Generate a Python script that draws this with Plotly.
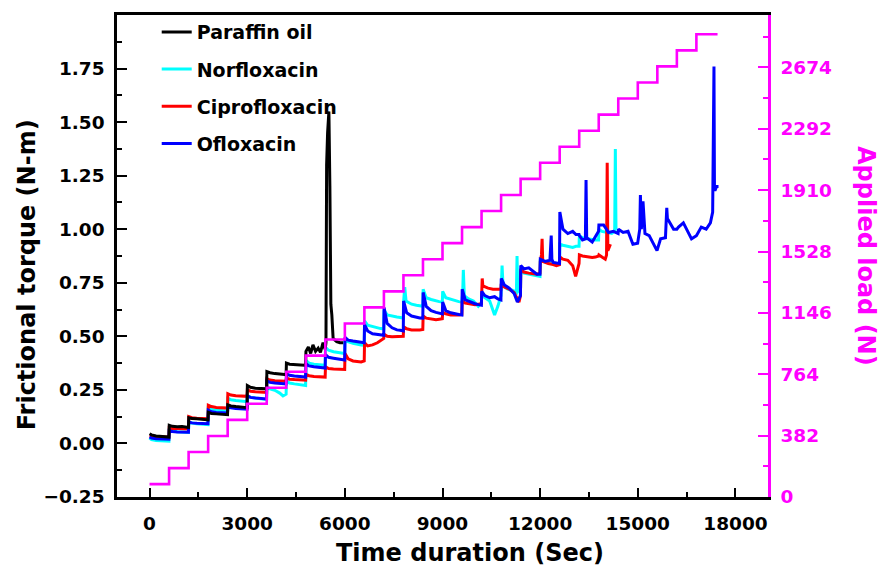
import plotly.graph_objects as go

# ---- Applied load steps (N) ----
load_time = [0, 600, 1200, 1800, 2400, 3000, 3600, 4200, 4800, 5400, 6000, 6600, 7200, 7800,
             8400, 9000, 9600, 10200, 10800, 11400, 12000, 12600, 13200, 13800, 14400, 15000,
             15600, 16200, 16800, 17450]
load_val = [80, 180, 280, 380, 480, 580, 680, 780, 880, 980, 1080, 1180, 1280, 1380,
            1480, 1580, 1680, 1780, 1880, 1980, 2080, 2180, 2280, 2380, 2480, 2580,
            2680, 2780, 2880, 2880]

# ---- Paraffin oil ----
paraffin_t = [0, 60, 200, 350, 500, 595,
              605, 700, 850, 1000, 1150, 1195,
              1205, 1300, 1450, 1600, 1750, 1795,
              1805, 1900, 2050, 2200, 2350, 2395,
              2405, 2500, 2650, 2800, 2950, 2995,
              3005, 3100, 3250, 3400, 3550, 3595,
              3605, 3700, 3850, 4000, 4150, 4195,
              4205, 4300, 4450, 4600, 4750, 4795,
              4805, 4880, 4950, 5020, 5100, 5180, 5250, 5330, 5395,
              5420, 5440, 5470, 5510, 5540, 5570, 5600, 5640, 5750, 5850, 5950]
paraffin_v = [0.045, 0.040, 0.035, 0.033, 0.031, 0.030,
              0.085, 0.080, 0.078, 0.079, 0.076, 0.075,
              0.120, 0.116, 0.115, 0.113, 0.112, 0.110,
              0.145, 0.140, 0.138, 0.137, 0.135, 0.134,
              0.180, 0.175, 0.172, 0.170, 0.168, 0.167,
              0.270, 0.262, 0.258, 0.256, 0.254, 0.255,
              0.335, 0.330, 0.326, 0.325, 0.322, 0.320,
              0.375, 0.370, 0.368, 0.366, 0.365, 0.370,
              0.430, 0.450, 0.420, 0.460, 0.430, 0.445, 0.425, 0.470, 0.440,
              0.470, 1.300, 1.450, 1.550, 1.200, 0.650, 0.600, 0.490, 0.475, 0.470, 0.470]

# ---- Norfloxacin ----
norflox_t = [0, 60, 200, 350, 500, 595,
             605, 700, 850, 1000, 1150, 1195,
             1205, 1300, 1450, 1600, 1750, 1795,
             1805, 1900, 2050, 2200, 2350, 2395,
             2405, 2500, 2650, 2800, 2950, 2995,
             3005, 3100, 3250, 3400, 3550, 3595,
             3605, 3700, 3850, 4000, 4100, 4195,
             4205, 4300, 4450, 4600, 4750, 4795,
             4805, 4900, 5050, 5200, 5300, 5395,
             5405, 5500, 5650, 5800, 5900, 5995,
             6005, 6100, 6250, 6400, 6500, 6595,
             6605, 6700, 6850, 7000, 7100, 7195,
             7205, 7300, 7450, 7600, 7700, 7795,
             7805, 7840, 7880, 8050, 8200, 8395,
             8405, 8500, 8650, 8800, 8900, 8995,
             9005, 9100, 9250, 9400, 9500, 9595,
             9620, 9640, 9670, 9800, 9950, 10100, 10195,
             10205, 10300, 10450, 10600, 10700, 10795,
             10810, 10830, 10860, 11000, 11150, 11270, 11290, 11310, 11395,
             11405, 11500, 11650, 11800, 11900, 11995,
             12005, 12100, 12250, 12400, 12500, 12595,
             12605, 12700, 12850, 13000, 13100, 13195,
             13205, 13300, 13450, 13600, 13700, 13795,
             13805, 13900, 14050, 14200, 14290, 14310, 14330, 14350]
norflox_v = [0.025, 0.018, 0.014, 0.012, 0.012, 0.011,
             0.062, 0.058, 0.055, 0.054, 0.052, 0.052,
             0.100, 0.095, 0.092, 0.090, 0.089, 0.088,
             0.165, 0.158, 0.155, 0.152, 0.150, 0.150,
             0.210, 0.204, 0.200, 0.198, 0.196, 0.195,
             0.222, 0.215, 0.212, 0.208, 0.206, 0.205,
             0.265, 0.255, 0.248, 0.235, 0.222, 0.230,
             0.292, 0.282, 0.278, 0.274, 0.272, 0.270,
             0.388, 0.375, 0.370, 0.368, 0.366, 0.365,
             0.448, 0.435, 0.428, 0.425, 0.422, 0.420,
             0.492, 0.475, 0.468, 0.462, 0.460, 0.458,
             0.572, 0.552, 0.545, 0.538, 0.536, 0.535,
             0.622, 0.600, 0.594, 0.590, 0.588, 0.585,
             0.660, 0.730, 0.665, 0.650, 0.645, 0.640,
             0.720, 0.680, 0.672, 0.665, 0.662, 0.660,
             0.710, 0.680, 0.672, 0.665, 0.662, 0.660,
             0.700, 0.810, 0.690, 0.675, 0.665, 0.640, 0.655,
             0.700, 0.680, 0.665, 0.600, 0.640, 0.690,
             0.740, 0.830, 0.735, 0.720, 0.715, 0.705, 0.875, 0.720, 0.700,
             0.805, 0.795, 0.790, 0.785, 0.780, 0.780,
             0.860, 0.850, 0.845, 0.840, 0.840, 0.840,
             0.930, 0.925, 0.920, 0.915, 0.920, 0.920,
             0.970, 0.960, 0.955, 0.950, 0.950, 0.950,
             1.000, 0.990, 0.985, 0.980, 0.990, 1.375, 1.000, 1.000]

# ---- Ciprofloxacin ----
ciproflox_t = [0, 60, 200, 350, 500, 595,
               605, 700, 850, 1000, 1150, 1195,
               1205, 1300, 1450, 1600, 1750, 1795,
               1805, 1900, 2050, 2200, 2350, 2395,
               2405, 2500, 2650, 2800, 2950, 2995,
               3005, 3100, 3250, 3400, 3550, 3595,
               3605, 3700, 3850, 4000, 4150, 4195,
               4205, 4300, 4450, 4600, 4750, 4795,
               4805, 4900, 5050, 5200, 5300, 5395,
               5405, 5500, 5650, 5800, 5900, 5995,
               6005, 6100, 6250, 6400, 6500, 6595,
               6605, 6700, 6850, 7000, 7100, 7195,
               7205, 7300, 7450, 7600, 7700, 7795,
               7805, 7900, 8050, 8200, 8300, 8395,
               8405, 8500, 8650, 8800, 8900, 8995,
               9005, 9100, 9250, 9400, 9500, 9595,
               9605, 9700, 9850, 10000, 10100, 10195,
               10205, 10220, 10240, 10400, 10550, 10700, 10795,
               10805, 10900, 11050, 11200, 11350, 11395,
               11405, 11500, 11650, 11800, 11900, 11995,
               12005, 12040, 12060, 12080, 12250, 12400, 12500, 12595,
               12605, 12700, 12850, 13000, 13090, 13195,
               13205, 13300, 13450, 13600, 13700, 13795,
               13805, 13900, 14000, 14040, 14060, 14080, 14160]
ciproflox_v = [0.035, 0.033, 0.031, 0.030, 0.030, 0.030,
               0.075, 0.072, 0.070, 0.069, 0.068, 0.068,
               0.125, 0.120, 0.118, 0.116, 0.115, 0.115,
               0.178, 0.172, 0.168, 0.166, 0.165, 0.165,
               0.232, 0.226, 0.223, 0.221, 0.220, 0.220,
               0.250, 0.244, 0.241, 0.239, 0.238, 0.238,
               0.302, 0.296, 0.293, 0.291, 0.290, 0.290,
               0.305, 0.300, 0.298, 0.296, 0.295, 0.295,
               0.322, 0.316, 0.313, 0.311, 0.310, 0.310,
               0.358, 0.350, 0.347, 0.345, 0.345, 0.345,
               0.420, 0.395, 0.385, 0.380, 0.380, 0.385,
               0.470, 0.455, 0.460, 0.470, 0.480, 0.490,
               0.510, 0.500, 0.498, 0.500, 0.502, 0.500,
               0.545, 0.535, 0.530, 0.528, 0.530, 0.532,
               0.595, 0.585, 0.580, 0.578, 0.580, 0.582,
               0.612, 0.605, 0.600, 0.598, 0.600, 0.602,
               0.665, 0.655, 0.650, 0.648, 0.650, 0.652,
               0.700, 0.770, 0.735, 0.725, 0.720, 0.718, 0.720,
               0.745, 0.730, 0.720, 0.705, 0.660, 0.690,
               0.815, 0.800, 0.795, 0.790, 0.790, 0.795,
               0.850, 0.880, 0.955, 0.850, 0.840, 0.835, 0.830, 0.835,
               0.870, 0.860, 0.855, 0.830, 0.780, 0.840,
               0.880, 0.875, 0.870, 0.868, 0.870, 0.875,
               0.880, 0.870, 0.860, 0.880, 1.310, 0.900, 0.930]

# ---- Ofloxacin ----
oflox_t = [0, 60, 200, 350, 500, 595,
           605, 700, 850, 1000, 1150, 1195,
           1205, 1300, 1450, 1600, 1750, 1795,
           1805, 1900, 2050, 2200, 2350, 2395,
           2405, 2500, 2650, 2800, 2950, 2995,
           3005, 3100, 3250, 3400, 3550, 3595,
           3605, 3700, 3850, 4000, 4150, 4195,
           4205, 4300, 4450, 4600, 4750, 4795,
           4805, 4900, 5050, 5200, 5300, 5395,
           5405, 5500, 5650, 5800, 5900, 5995,
           6005, 6100, 6250, 6400, 6500, 6595,
           6605, 6700, 6850, 7000, 7100, 7195,
           7205, 7300, 7450, 7600, 7700, 7795,
           7805, 7900, 8050, 8200, 8300, 8395,
           8405, 8500, 8650, 8800, 8900, 8995,
           9005, 9100, 9250, 9400, 9500, 9595,
           9605, 9700, 9850, 10000, 10100, 10195,
           10205, 10300, 10450, 10600, 10700, 10795,
           10805, 10900, 11050, 11200, 11300, 11395,
           11405, 11500, 11650, 11800, 11900, 11995,
           12005, 12150, 12300, 12340, 12360, 12400, 12595,
           12605, 12700, 12850, 13000, 13100, 13195,
           13205, 13300, 13390, 13410, 13430, 13600, 13795,
           13805, 13950, 14100, 14250, 14395,
           14405, 14550, 14700, 14850, 14995,
           15060, 15080, 15110, 15160, 15220, 15350, 15500, 15590,
           15700, 15850, 15890, 15910, 15950, 16100, 16200,
           16250, 16400, 16500, 16650, 16800,
           16950, 17100, 17230, 17300, 17340, 17355, 17370, 17420, 17480]
oflox_v = [0.030, 0.025, 0.022, 0.021, 0.020, 0.020,
           0.060, 0.056, 0.054, 0.053, 0.052, 0.052,
           0.100, 0.096, 0.094, 0.093, 0.092, 0.092,
           0.155, 0.148, 0.145, 0.143, 0.142, 0.142,
           0.172, 0.166, 0.163, 0.161, 0.160, 0.160,
           0.222, 0.215, 0.212, 0.210, 0.208, 0.208,
           0.292, 0.285, 0.282, 0.280, 0.278, 0.278,
           0.325, 0.318, 0.315, 0.312, 0.310, 0.310,
           0.372, 0.362, 0.358, 0.355, 0.352, 0.352,
           0.415, 0.402, 0.398, 0.395, 0.392, 0.390,
           0.495, 0.482, 0.478, 0.474, 0.472, 0.470,
           0.555, 0.525, 0.512, 0.508, 0.506, 0.505,
           0.635, 0.560, 0.540, 0.530, 0.528, 0.525,
           0.665, 0.610, 0.595, 0.588, 0.586, 0.585,
           0.705, 0.640, 0.620, 0.612, 0.608, 0.605,
           0.660, 0.620, 0.610, 0.604, 0.602, 0.600,
           0.720, 0.670, 0.660, 0.652, 0.648, 0.645,
           0.710, 0.690, 0.680, 0.685, 0.675, 0.670,
           0.770, 0.740, 0.725, 0.700, 0.660, 0.690,
           0.830, 0.815, 0.820, 0.800, 0.790, 0.790,
           0.860, 0.850, 0.855, 0.970, 0.860, 0.845, 0.840,
           1.080, 1.000, 0.980, 0.990, 0.975, 0.975,
           0.970, 0.950, 0.955, 1.230, 0.960, 0.940, 0.990,
           1.020, 1.020, 0.985, 0.990, 0.980,
           1.000, 0.985, 0.990, 0.930, 0.935,
           1.000, 1.160, 1.000, 1.130, 0.980, 0.970, 0.930, 0.900,
           0.955, 0.960, 1.100, 1.050, 1.040, 1.000, 1.000,
           1.010, 1.030, 1.000, 0.955, 0.970,
           1.010, 1.000, 1.030, 1.080, 1.760, 1.190, 1.180, 1.200, 1.200]

FONT = "DejaVu Sans"
MAGENTA = "#ff00ff"

fig = go.Figure()

series = [
    ("Norfloxacin", norflox_t, norflox_v, "#00ffff", 2),
    ("Ciprofloxacin", ciproflox_t, ciproflox_v, "#ff0000", 3),
    ("Ofloxacin", oflox_t, oflox_v, "#0000ff", 4),
    ("Paraffin oil", paraffin_t, paraffin_v, "#000000", 1),
]
for name, t, v, color, rank in series:
    fig.add_trace(go.Scatter(
        x=t, y=v, mode="lines", name=name,
        line=dict(color=color, width=3),
        legendrank=rank, legendgroup=name,
    ))

fig.add_trace(go.Scatter(
    x=load_time, y=load_val, mode="lines", yaxis="y2",
    line=dict(color=MAGENTA, width=2.6, shape="hv"),
    showlegend=False,
))

tick_font = dict(family=FONT, size=18.5, color="black", weight="bold")

fig.update_layout(
    width=883, height=571,
    margin=dict(l=117, r=115, t=15, b=74),
    paper_bgcolor="white", plot_bgcolor="white",
    font=dict(family=FONT, weight="bold"),
    xaxis=dict(
        range=[-1000, 19000], tickmode="linear", tick0=0, dtick=3000, tickformat="d",
        ticks="inside", ticklen=9, tickwidth=2, tickcolor="black",
        minor=dict(ticks="inside", dtick=1500, tick0=0, ticklen=5, tickwidth=2, tickcolor="black"),
        showline=True, linecolor="black", linewidth=2.5, mirror=True,
        showgrid=False, zeroline=False, tickfont=tick_font, ticklabelstandoff=8,
    ),
    yaxis=dict(
        range=[-0.25, 2.0],
        tickvals=[-0.25, 0, 0.25, 0.5, 0.75, 1.0, 1.25, 1.5, 1.75],
        tickformat=".2f",
        ticks="inside", ticklen=10, tickwidth=2, tickcolor="black",
        minor=dict(ticks="inside", tickvals=[-0.125, 0.125, 0.375, 0.625, 0.875, 1.125,
                                             1.375, 1.625, 1.875],
                   ticklen=5, tickwidth=2, tickcolor="black"),
        showline=True, linecolor="black", linewidth=2.5,
        showgrid=False, zeroline=False, tickfont=tick_font, ticklabelstandoff=6,
    ),
    yaxis2=dict(
        range=[0, 3000], overlaying="y", side="right",
        tickvals=[0, 382, 764, 1146, 1528, 1910, 2292, 2674],
        ticks="inside", ticklen=10, tickwidth=2, tickcolor=MAGENTA,
        minor=dict(ticks="inside", tickvals=[191, 573, 955, 1337, 1719, 2101, 2483, 2865],
                   ticklen=5, tickwidth=2, tickcolor=MAGENTA),
        showline=True, linecolor=MAGENTA, linewidth=2.5,
        showgrid=False, zeroline=False,
        tickfont=dict(family=FONT, size=18.5, color=MAGENTA, weight="bold"),
        ticklabelstandoff=6,
    ),
    legend=dict(
        x=0.061, y=1.004, xanchor="left", yanchor="top",
        bgcolor="rgba(0,0,0,0)", borderwidth=0,
        font=dict(family=FONT, size=19, color="black", weight="bold"),
        tracegroupgap=9.5, itemwidth=30,
    ),
    annotations=[
        dict(text="Time duration (Sec)", xref="paper", yref="paper", x=0.542, y=0,
             yshift=-56, xanchor="center", yanchor="middle", showarrow=False,
             font=dict(family=FONT, size=24, color="black", weight="bold")),
        dict(text="Frictional torque (N-m)", xref="paper", yref="paper", x=0, y=0.46,
             xshift=-90, xanchor="center", yanchor="middle", textangle=-90, showarrow=False,
             font=dict(family=FONT, size=24, color="black", weight="bold")),
        dict(text="Applied load (N)", xref="paper", yref="paper", x=1, y=0.5,
             xshift=98, xanchor="center", yanchor="middle", textangle=90, showarrow=False,
             font=dict(family=FONT, size=24, color=MAGENTA, weight="bold")),
    ],
)

fig.write_html("out.html")
